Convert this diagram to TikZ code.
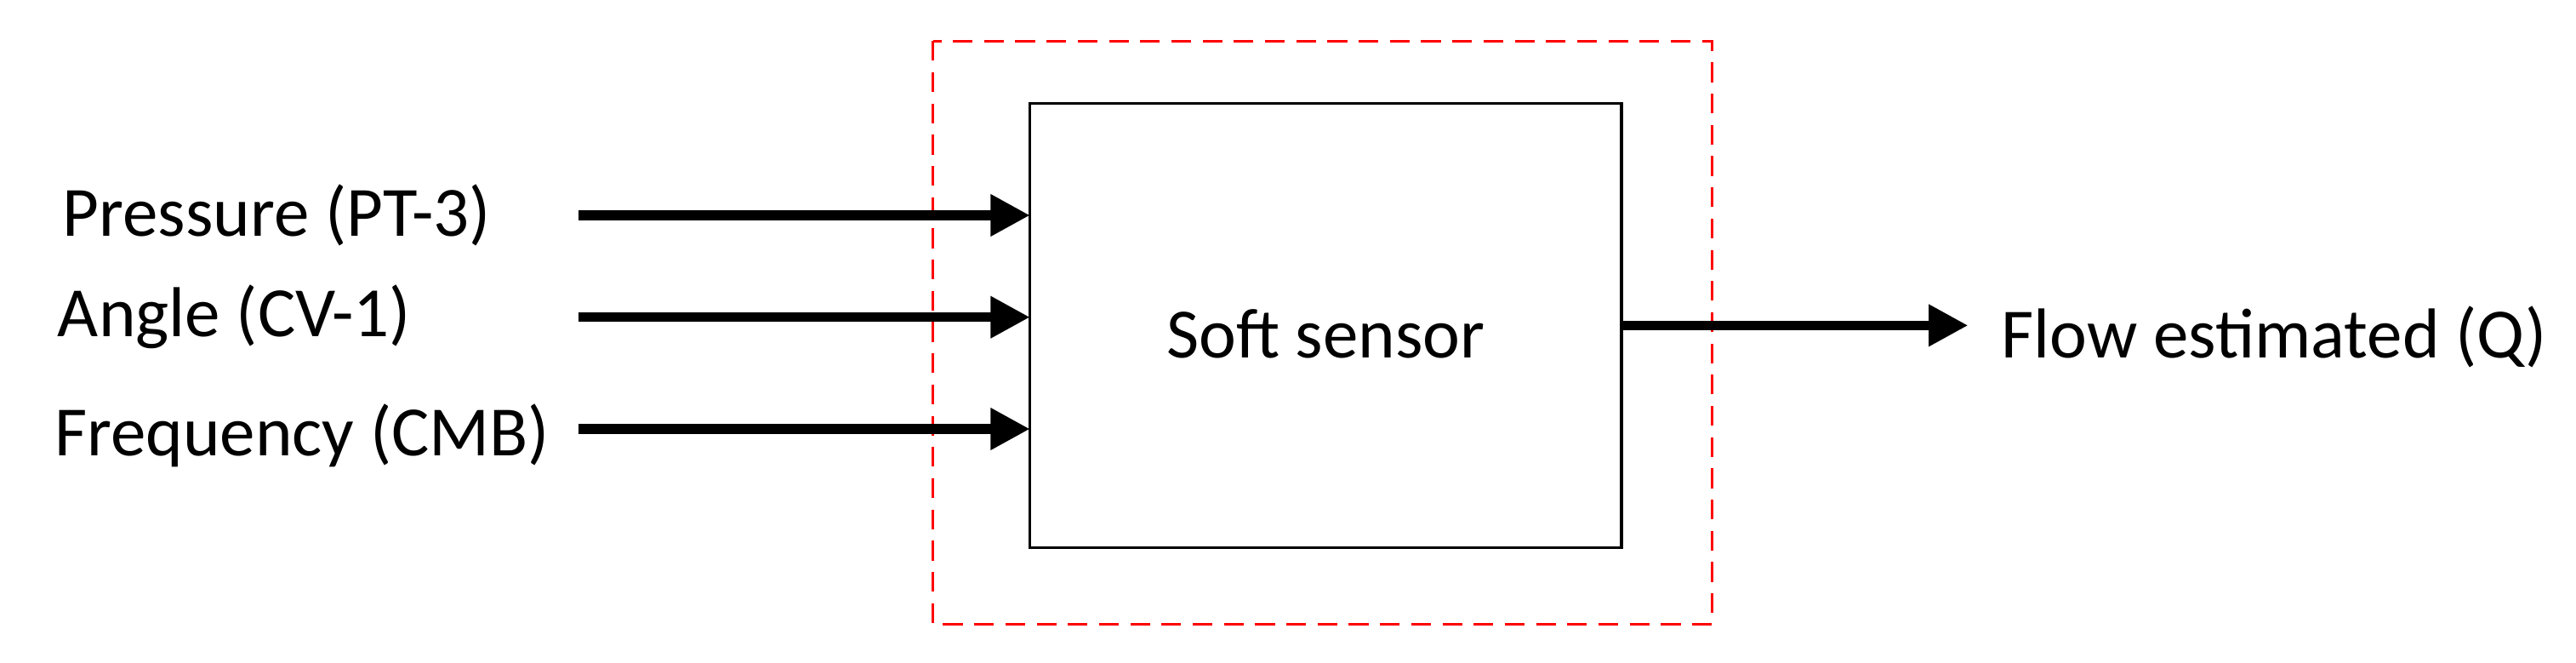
\documentclass[tikz,border=0pt]{standalone}
\usepackage{fontspec}
\setmainfont{Carlito}
\usetikzlibrary{arrows.meta}
\begin{document}
\begin{tikzpicture}[x=1pt,y=-1pt,
  lbl/.style={font=\fontsize{43}{46}\selectfont, inner sep=0pt},
  arr/.style={line width=6pt,-{Triangle[length=24pt,width=24pt]}}]
\useasboundingbox (0,0) rectangle (1568,403);
\draw[red, dashed, line width=1.6pt, dash pattern=on 12pt off 7pt] (568,25) rectangle (1042,380);
\draw[line width=1.6pt] (627,63) rectangle (987,333);
\node[lbl] (ss) at (807,203) {Soft sensor};
\coordinate (in1) at (627,131);
\coordinate (in2) at (627,193);
\coordinate (in3) at (627,261);
\coordinate (out) at (987,198);
\node[lbl, anchor=west] (p) at (38,131) {Pressure (PT-3)};
\node[lbl, anchor=west] (a) at (35,193) {Angle (CV-1)};
\node[lbl, anchor=west] (f) at (33,265) {Frequency (CMB)};
\node[lbl, anchor=west] (q) at (1218,205) {Flow estimated (Q)};
\coordinate (s1) at (352,131);
\coordinate (s2) at (352,193);
\coordinate (s3) at (352,261);
\draw[arr] (s1) -- (in1);
\draw[arr] (s2) -- (in2);
\draw[arr] (s3) -- (in3);
\draw[arr] (out) -- (1198,198) coordinate (e);
\end{tikzpicture}
\end{document}
